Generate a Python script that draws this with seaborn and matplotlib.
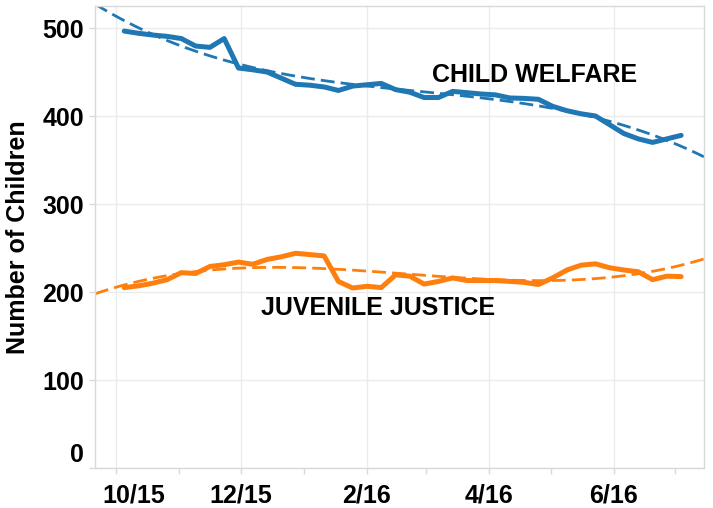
import pandas as pd
import matplotlib
matplotlib.use("Agg")
import matplotlib.pyplot as plt
import matplotlib.dates as mdates
from matplotlib.ticker import FuncFormatter, MultipleLocator
from matplotlib.transforms import ScaledTranslation
import seaborn as sns

# weekly counts, Oct 2015 - Jul 2016
weeks = pd.date_range("2015-10-05", periods=40, freq="7D")
child_welfare = [496.5, 494, 492, 490.5, 488, 479.5, 478, 488, 454.5, 452.5,
                 450, 443, 436, 435, 433, 429, 434, 435.5, 437, 430,
                 427, 421, 421, 428, 426.5, 425, 424, 420.5, 420, 419,
                 411, 406, 402.5, 400, 390, 380, 374, 370, 374, 378]
juvenile_justice = [205, 207, 210, 214, 222, 221, 229, 231, 234, 231.5,
                    237, 240, 244, 242.5, 241, 212, 204.5, 206.5, 205, 219.5,
                    218, 209, 212, 216, 213, 213, 213, 212, 211, 208.5,
                    216, 225, 230.5, 232, 227.5, 225, 223, 214, 218, 217.5]

df = pd.DataFrame({
    "week": mdates.date2num(weeks),
    "Child Welfare": child_welfare,
    "Juvenile Justice": juvenile_justice,
})

sns.set_style("white")
plt.rcParams["font.family"] = ["Liberation Sans", "DejaVu Sans"]
plt.rcParams["font.weight"] = "bold"
plt.rcParams["text.color"] = "black"
plt.rcParams["axes.labelcolor"] = "black"
plt.rcParams["xtick.labelcolor"] = "black"
plt.rcParams["ytick.labelcolor"] = "black"

blue = "#1f77b4"
orange = "#ff7f0e"
x0 = mdates.date2num(pd.Timestamp("2015-09-20 16:00"))
x1 = mdates.date2num(pd.Timestamp("2016-07-15 05:00"))

fig = plt.figure(figsize=(7.13, 5.08), dpi=100)
ax = fig.add_axes([95 / 713, 40 / 508, 609 / 713, 462 / 508])
ax.set_xlim(x0, x1)
ax.set_ylim(0, 525)

for col, c in [("Child Welfare", blue), ("Juvenile Justice", orange)]:
    sns.lineplot(data=df, x="week", y=col, color=c, lw=3.6, ax=ax)
    # cubic trend line across the whole axis
    sns.regplot(data=df, x="week", y=col, order=3, ci=None, scatter=False,
                truncate=False, color=c, ax=ax,
                line_kws=dict(lw=2, dashes=(5, 2.2)))

ax.set_xlim(x0, x1)
ax.set_ylim(0, 525)

ax.xaxis.set_major_locator(mdates.MonthLocator(bymonth=[2, 4, 6, 8, 10, 12]))
ax.xaxis.set_minor_locator(mdates.MonthLocator(bymonth=[1, 3, 5, 7, 9, 11]))
ax.xaxis.set_major_formatter(FuncFormatter(
    lambda v, p: f"{mdates.num2date(v).month}/{mdates.num2date(v):%y}"))
ax.yaxis.set_major_locator(MultipleLocator(100))

ax.grid(True, which="major", color="#ebebeb", lw=1)
for s in ax.spines.values():
    s.set_color("#d9d9d9")
    s.set_linewidth(1)

ax.tick_params(axis="x", which="both", length=4, width=1, color="#d9d9d9",
               bottom=True, labelsize=18, pad=7, labelcolor="black")
ax.tick_params(axis="y", length=4, width=1, color="#d9d9d9", left=True,
               labelsize=18, pad=4, labelcolor="black")

ax.set_xlabel("")
ax.set_ylabel("Number of Children", fontsize=18, fontweight="bold",
              labelpad=9, color="black")

fig.canvas.draw()
# nudge the edge labels like the original
for lab in ax.get_xticklabels():
    lab.set_fontweight("bold")
    if lab.get_text() == "10/15":
        lab.set_transform(lab.get_transform() +
                          ScaledTranslation(0.18, 0, fig.dpi_scale_trans))
for lab in ax.get_yticklabels():
    lab.set_fontweight("bold")
    if lab.get_text() == "0":
        lab.set_transform(lab.get_transform() +
                          ScaledTranslation(0, 0.15, fig.dpi_scale_trans))

ax.text(0.721, 0.851, "CHILD WELFARE", transform=ax.transAxes, ha="center",
        va="center", fontsize=18, fontweight="bold", color="black")
ax.text(0.465, 0.346, "JUVENILE JUSTICE", transform=ax.transAxes, ha="center",
        va="center", fontsize=18, fontweight="bold", color="black")

fig.savefig("out.png", dpi=100)
